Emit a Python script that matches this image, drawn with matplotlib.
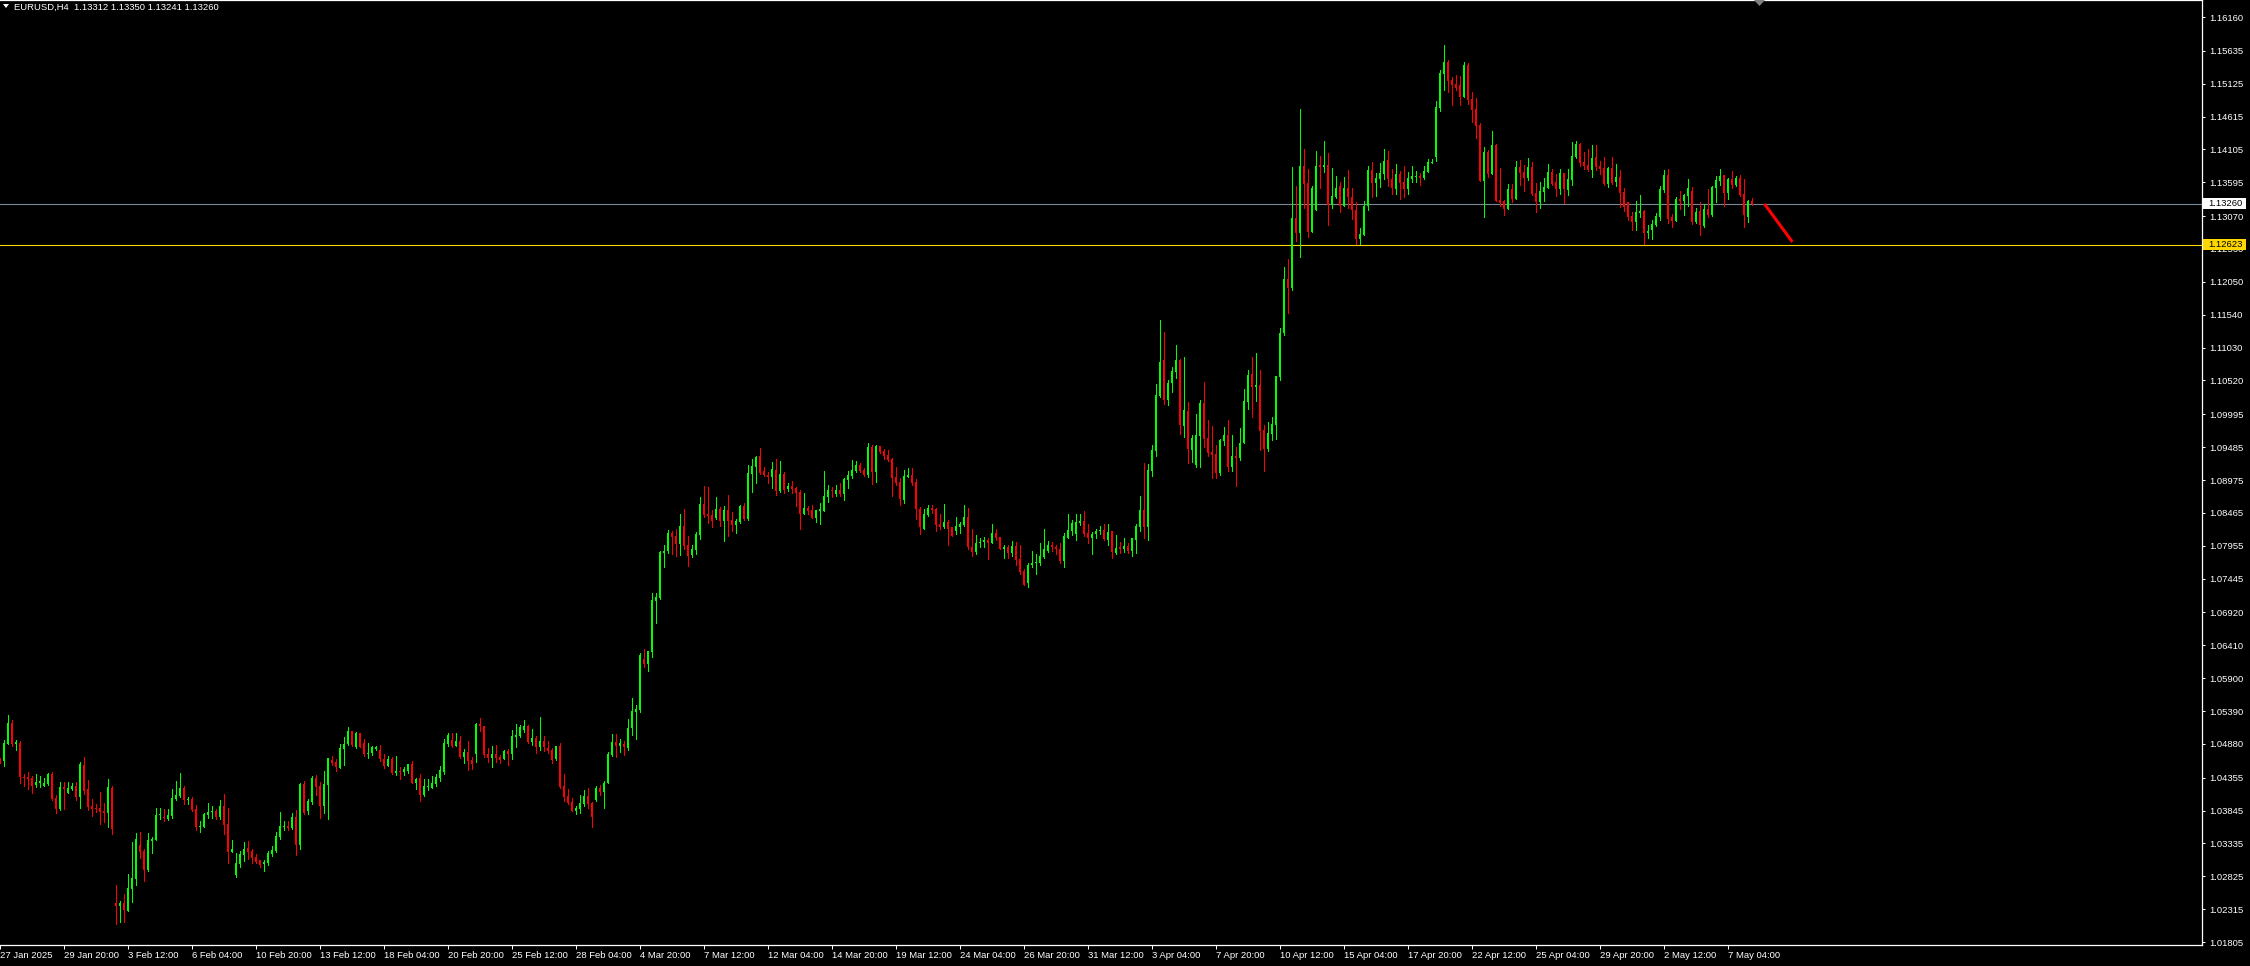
import numpy as np
import matplotlib
matplotlib.use('Agg')
import matplotlib.pyplot as plt
import matplotlib.transforms as mtransforms
from matplotlib.patches import Rectangle, Polygon

# EURUSD H4 candles, 27 Jan 2025 04:00 .. 8 May 2025
opens = [
    1.0463, 1.0462, 1.0488, 1.0520, 1.0488, 1.0489, 1.0437, 1.0437, 1.0435, 1.0424,
    1.0427, 1.0423, 1.0426, 1.0441, 1.0404, 1.0387, 1.0421, 1.0412, 1.0418, 1.0423,
    1.0406, 1.0455, 1.0418, 1.0392, 1.0389, 1.0389, 1.0384, 1.0381, 1.0420, 1.0241,
    1.0236, 1.0241, 1.0229, 1.0263, 1.0278, 1.0331, 1.0322, 1.0292, 1.0337, 1.0339,
    1.0377, 1.0375, 1.0372, 1.0376, 1.0403, 1.0407, 1.0420, 1.0401, 1.0402, 1.0387,
    1.0359, 1.0359, 1.0378, 1.0382, 1.0384, 1.0375, 1.0392, 1.0364, 1.0320, 1.0284,
    1.0302, 1.0316, 1.0327, 1.0322, 1.0312, 1.0308, 1.0302, 1.0303, 1.0317, 1.0322,
    1.0344, 1.0359, 1.0361, 1.0358, 1.0374, 1.0331, 1.0426, 1.0384, 1.0398, 1.0435,
    1.0423, 1.0392, 1.0424, 1.0463, 1.0460, 1.0451, 1.0480, 1.0488, 1.0508, 1.0483,
    1.0505, 1.0489, 1.0473, 1.0474, 1.0480, 1.0478, 1.0465, 1.0454, 1.0465, 1.0443,
    1.0446, 1.0444, 1.0446, 1.0457, 1.0427, 1.0435, 1.0409, 1.0421, 1.0420, 1.0426,
    1.0435, 1.0445, 1.0488, 1.0494, 1.0485, 1.0493, 1.0468, 1.0475, 1.0463, 1.0472,
    1.0519, 1.0516, 1.0472, 1.0466, 1.0472, 1.0468, 1.0465, 1.0477, 1.0472, 1.0499,
    1.0500, 1.0510, 1.0516, 1.0491, 1.0497, 1.0483, 1.0493, 1.0482, 1.0479, 1.0465,
    1.0485, 1.0423, 1.0407, 1.0398, 1.0384, 1.0387, 1.0395, 1.0407, 1.0396, 1.0401,
    1.0419, 1.0414, 1.0427, 1.0471, 1.0491, 1.0484, 1.0488, 1.0482, 1.0512, 1.0538,
    1.0541, 1.0620, 1.0612, 1.0631, 1.0710, 1.0715, 1.0784, 1.0787, 1.0815, 1.0811,
    1.0798, 1.0826, 1.0797, 1.0781, 1.0789, 1.0812, 1.0860, 1.0845, 1.0843, 1.0839,
    1.0853, 1.0834, 1.0851, 1.0836, 1.0828, 1.0832, 1.0857, 1.0837, 1.0907, 1.0918,
    1.0935, 1.0911, 1.0905, 1.0902, 1.0913, 1.0881, 1.0907, 1.0884, 1.0888, 1.0885,
    1.0879, 1.0845, 1.0854, 1.0851, 1.0839, 1.0850, 1.0850, 1.0871, 1.0882, 1.0876,
    1.0882, 1.0876, 1.0898, 1.0904, 1.0911, 1.0921, 1.0913, 1.0905, 1.0949, 1.0910,
    1.0950, 1.0943, 1.0936, 1.0930, 1.0902, 1.0895, 1.0867, 1.0902, 1.0905, 1.0895,
    1.0853, 1.0822, 1.0843, 1.0854, 1.0853, 1.0829, 1.0825, 1.0832, 1.0824, 1.0819,
    1.0825, 1.0828, 1.0840, 1.0794, 1.0786, 1.0799, 1.0802, 1.0804, 1.0799, 1.0815,
    1.0809, 1.0790, 1.0794, 1.0785, 1.0795, 1.0775, 1.0756, 1.0737, 1.0765, 1.0768,
    1.0769, 1.0778, 1.0788, 1.0797, 1.0794, 1.0791, 1.0772, 1.0808, 1.0819, 1.0814,
    1.0831, 1.0834, 1.0816, 1.0807, 1.0813, 1.0818, 1.0820, 1.0804, 1.0818, 1.0785,
    1.0794, 1.0791, 1.0795, 1.0788, 1.0805, 1.0825, 1.0851, 1.0825, 1.0912, 1.0943,
    1.1028, 1.1084, 1.1022, 1.1048, 1.1065, 1.1084, 1.0981, 1.1005, 1.0944, 1.0921,
    1.0966, 1.1017, 1.0963, 1.0941, 1.0938, 1.0909, 1.0958, 1.0968, 1.0918, 1.0934,
    1.0932, 1.0955, 1.1019, 1.1062, 1.1042, 1.1045, 1.0975, 1.0946, 1.0969, 1.0983,
    1.1058, 1.1126, 1.1210, 1.1195, 1.1304, 1.1281, 1.1385, 1.1358, 1.1283, 1.1317,
    1.1386, 1.1384, 1.1386, 1.1325, 1.1337, 1.1354, 1.1322, 1.1351, 1.1337, 1.1317,
    1.1271, 1.1278, 1.1322, 1.1379, 1.1358, 1.1365, 1.1373, 1.1394, 1.1365, 1.1349,
    1.1373, 1.1360, 1.1349, 1.1365, 1.1368, 1.1369, 1.1366, 1.1376, 1.1390, 1.1399,
    1.1475, 1.1528, 1.1546, 1.1518, 1.1512, 1.1511, 1.1492, 1.1541, 1.1489, 1.1473,
    1.1448, 1.1361, 1.1407, 1.1373, 1.1417, 1.1332, 1.1330, 1.1318, 1.1349, 1.1334,
    1.1383, 1.1376, 1.1366, 1.1383, 1.1343, 1.1329, 1.1345, 1.1351, 1.1376, 1.1360,
    1.1349, 1.1374, 1.1348, 1.1363, 1.1399, 1.1419, 1.1391, 1.1386, 1.1379, 1.1399,
    1.1385, 1.1382, 1.1357, 1.1382, 1.1360, 1.1368, 1.1345, 1.1329, 1.1307, 1.1298,
    1.1312, 1.1315, 1.1281, 1.1285, 1.1293, 1.1306, 1.1348, 1.1371, 1.1306, 1.1300,
    1.1334, 1.1331, 1.1338, 1.1346, 1.1298, 1.1315, 1.1292, 1.1318, 1.1309, 1.1351,
    1.1362, 1.1371, 1.1343, 1.1365, 1.1355, 1.1366, 1.1341, 1.1306, 1.13312,
]
highs = [
    1.0466, 1.0494, 1.0533, 1.0525, 1.0494, 1.0493, 1.0442, 1.0444, 1.0438, 1.0442,
    1.0438, 1.0435, 1.0443, 1.0444, 1.0409, 1.0429, 1.0429, 1.0429, 1.0427, 1.0429,
    1.0460, 1.0468, 1.0432, 1.0402, 1.0395, 1.0413, 1.0396, 1.0434, 1.0423, 1.0269,
    1.0244, 1.0255, 1.0286, 1.0336, 1.0350, 1.0351, 1.0325, 1.0350, 1.0343, 1.0389,
    1.0389, 1.0387, 1.0387, 1.0418, 1.0430, 1.0443, 1.0423, 1.0406, 1.0406, 1.0393,
    1.0368, 1.0381, 1.0396, 1.0391, 1.0387, 1.0401, 1.0410, 1.0389, 1.0339, 1.0319,
    1.0322, 1.0336, 1.0337, 1.0325, 1.0317, 1.0308, 1.0308, 1.0322, 1.0330, 1.0351,
    1.0382, 1.0368, 1.0368, 1.0381, 1.0385, 1.0427, 1.0430, 1.0402, 1.0438, 1.0440,
    1.0429, 1.0446, 1.0466, 1.0469, 1.0465, 1.0488, 1.0499, 1.0514, 1.0508, 1.0506,
    1.0505, 1.0496, 1.0489, 1.0485, 1.0485, 1.0486, 1.0472, 1.0469, 1.0468, 1.0469,
    1.0452, 1.0452, 1.0457, 1.0462, 1.0435, 1.0441, 1.0434, 1.0434, 1.0438, 1.0441,
    1.0454, 1.0496, 1.0505, 1.0505, 1.0505, 1.0500, 1.0480, 1.0493, 1.0468, 1.0520,
    1.0528, 1.0516, 1.0482, 1.0485, 1.0486, 1.0471, 1.0479, 1.0480, 1.0510, 1.0519,
    1.0517, 1.0525, 1.0517, 1.0511, 1.0500, 1.0530, 1.0500, 1.0493, 1.0482, 1.0485,
    1.0489, 1.0441, 1.0418, 1.0404, 1.0392, 1.0409, 1.0416, 1.0420, 1.0398, 1.0423,
    1.0424, 1.0430, 1.0476, 1.0504, 1.0504, 1.0495, 1.0492, 1.0526, 1.0559, 1.0549,
    1.0629, 1.0636, 1.0632, 1.0722, 1.0722, 1.0787, 1.0797, 1.0820, 1.0818, 1.0822,
    1.0845, 1.0853, 1.0811, 1.0797, 1.0817, 1.0871, 1.0888, 1.0887, 1.0851, 1.0871,
    1.0856, 1.0857, 1.0874, 1.0848, 1.0837, 1.0859, 1.0862, 1.0921, 1.0930, 1.0935,
    1.0947, 1.0918, 1.0910, 1.0925, 1.0930, 1.0927, 1.0910, 1.0893, 1.0896, 1.0887,
    1.0882, 1.0877, 1.0857, 1.0859, 1.0851, 1.0862, 1.0911, 1.0890, 1.0887, 1.0890,
    1.0893, 1.0901, 1.0911, 1.0929, 1.0927, 1.0924, 1.0916, 1.0955, 1.0952, 1.0952,
    1.0950, 1.0946, 1.0944, 1.0932, 1.0918, 1.0901, 1.0913, 1.0916, 1.0916, 1.0899,
    1.0856, 1.0853, 1.0859, 1.0859, 1.0854, 1.0845, 1.0860, 1.0835, 1.0825, 1.0840,
    1.0832, 1.0858, 1.0854, 1.0821, 1.0812, 1.0808, 1.0809, 1.0807, 1.0829, 1.0822,
    1.0809, 1.0796, 1.0797, 1.0803, 1.0801, 1.0796, 1.0760, 1.0769, 1.0788, 1.0782,
    1.0800, 1.0822, 1.0803, 1.0801, 1.0797, 1.0800, 1.0816, 1.0845, 1.0835, 1.0845,
    1.0845, 1.0850, 1.0829, 1.0817, 1.0822, 1.0826, 1.0829, 1.0829, 1.0819, 1.0812,
    1.0801, 1.0808, 1.0800, 1.0808, 1.0829, 1.0873, 1.0924, 1.0922, 1.0952, 1.1047,
    1.1146, 1.1127, 1.1053, 1.1073, 1.1107, 1.1085, 1.1089, 1.1019, 1.0968, 1.1000,
    1.1021, 1.1050, 1.0991, 1.0981, 1.0952, 1.0961, 1.0980, 1.0991, 1.0968, 1.0949,
    1.0978, 1.1039, 1.1068, 1.1089, 1.1095, 1.1068, 1.0983, 1.0988, 1.0996, 1.1059,
    1.1134, 1.1228, 1.1241, 1.1383, 1.1354, 1.1473, 1.1411, 1.1380, 1.1353, 1.1408,
    1.1400, 1.1424, 1.1405, 1.1382, 1.1369, 1.1360, 1.1368, 1.1379, 1.1350, 1.1329,
    1.1289, 1.1331, 1.1385, 1.1391, 1.1374, 1.1390, 1.1411, 1.1408, 1.1380, 1.1388,
    1.1377, 1.1385, 1.1376, 1.1385, 1.1377, 1.1374, 1.1385, 1.1396, 1.1396, 1.1486,
    1.1534, 1.1573, 1.1549, 1.1523, 1.1526, 1.1524, 1.1546, 1.1545, 1.1500, 1.1490,
    1.1452, 1.1414, 1.1410, 1.1439, 1.1419, 1.1382, 1.1332, 1.1357, 1.1357, 1.1393,
    1.1394, 1.1386, 1.1397, 1.1391, 1.1359, 1.1360, 1.1366, 1.1388, 1.1380, 1.1372,
    1.1380, 1.1374, 1.1380, 1.1422, 1.1424, 1.1421, 1.1407, 1.1411, 1.1417, 1.1417,
    1.1393, 1.1399, 1.1383, 1.1399, 1.1388, 1.1379, 1.1351, 1.1329, 1.1314, 1.1331,
    1.1340, 1.1317, 1.1293, 1.1301, 1.1312, 1.1354, 1.1379, 1.1380, 1.1311, 1.1337,
    1.1346, 1.1341, 1.1365, 1.1352, 1.1320, 1.1329, 1.1326, 1.1349, 1.1354, 1.1369,
    1.1380, 1.1371, 1.1366, 1.1377, 1.1369, 1.1371, 1.1365, 1.1332, 1.13350,
]
lows = [
    1.0459, 1.0453, 1.0488, 1.0484, 1.0479, 1.0428, 1.0423, 1.0418, 1.0412, 1.0421,
    1.0421, 1.0423, 1.0424, 1.0401, 1.0380, 1.0385, 1.0387, 1.0412, 1.0416, 1.0401,
    1.0389, 1.0410, 1.0385, 1.0376, 1.0382, 1.0364, 1.0367, 1.0359, 1.0348, 1.0209,
    1.0212, 1.0212, 1.0229, 1.0243, 1.0269, 1.0311, 1.0275, 1.0291, 1.0319, 1.0339,
    1.0372, 1.0368, 1.0370, 1.0373, 1.0401, 1.0406, 1.0395, 1.0395, 1.0384, 1.0354,
    1.0351, 1.0359, 1.0373, 1.0373, 1.0372, 1.0372, 1.0348, 1.0303, 1.0320, 1.0281,
    1.0297, 1.0306, 1.0309, 1.0303, 1.0303, 1.0297, 1.0291, 1.0300, 1.0314, 1.0320,
    1.0341, 1.0354, 1.0354, 1.0356, 1.0316, 1.0325, 1.0379, 1.0379, 1.0395, 1.0409,
    1.0373, 1.0381, 1.0372, 1.0455, 1.0446, 1.0451, 1.0455, 1.0486, 1.0485, 1.0482,
    1.0483, 1.0469, 1.0466, 1.0471, 1.0479, 1.0461, 1.0451, 1.0454, 1.0441, 1.0440,
    1.0433, 1.0440, 1.0443, 1.0427, 1.0418, 1.0399, 1.0407, 1.0416, 1.0420, 1.0423,
    1.0430, 1.0441, 1.0485, 1.0483, 1.0485, 1.0466, 1.0458, 1.0447, 1.0449, 1.0460,
    1.0508, 1.0468, 1.0460, 1.0452, 1.0460, 1.0458, 1.0465, 1.0455, 1.0465, 1.0483,
    1.0499, 1.0506, 1.0489, 1.0486, 1.0474, 1.0479, 1.0477, 1.0474, 1.0458, 1.0463,
    1.0420, 1.0399, 1.0395, 1.0384, 1.0379, 1.0381, 1.0392, 1.0389, 1.0359, 1.0399,
    1.0409, 1.0388, 1.0427, 1.0469, 1.0467, 1.0476, 1.0470, 1.0479, 1.0502, 1.0496,
    1.0537, 1.0608, 1.0601, 1.0623, 1.0676, 1.0713, 1.0763, 1.0784, 1.0783, 1.0779,
    1.0781, 1.0791, 1.0764, 1.0778, 1.0783, 1.0806, 1.0840, 1.0831, 1.0825, 1.0837,
    1.0826, 1.0803, 1.0811, 1.0818, 1.0815, 1.0831, 1.0836, 1.0836, 1.0879, 1.0893,
    1.0907, 1.0904, 1.0893, 1.0885, 1.0874, 1.0879, 1.0877, 1.0881, 1.0877, 1.0857,
    1.0822, 1.0845, 1.0845, 1.0839, 1.0832, 1.0829, 1.0850, 1.0863, 1.0871, 1.0873,
    1.0873, 1.0867, 1.0885, 1.0901, 1.0910, 1.0910, 1.0904, 1.0902, 1.0891, 1.0894,
    1.0939, 1.0930, 1.0927, 1.0872, 1.0890, 1.0859, 1.0862, 1.0902, 1.0889, 1.0837,
    1.0813, 1.0821, 1.0841, 1.0847, 1.0819, 1.0822, 1.0823, 1.0796, 1.0811, 1.0814,
    1.0816, 1.0826, 1.0791, 1.0780, 1.0783, 1.0794, 1.0793, 1.0775, 1.0799, 1.0805,
    1.0790, 1.0777, 1.0777, 1.0780, 1.0766, 1.0751, 1.0734, 1.0732, 1.0763, 1.0752,
    1.0766, 1.0776, 1.0786, 1.0788, 1.0783, 1.0768, 1.0763, 1.0807, 1.0812, 1.0804,
    1.0828, 1.0811, 1.0800, 1.0783, 1.0807, 1.0814, 1.0804, 1.0797, 1.0777, 1.0782,
    1.0785, 1.0786, 1.0785, 1.0779, 1.0785, 1.0818, 1.0808, 1.0804, 1.0904, 1.0934,
    1.1026, 1.1016, 1.1014, 1.1034, 1.1056, 1.0969, 1.0964, 1.0924, 1.0926, 1.0917,
    1.0918, 1.0949, 1.0934, 1.0900, 1.0900, 1.0906, 1.0952, 1.0911, 1.0912, 1.0888,
    1.0929, 1.0955, 1.1008, 1.0996, 1.1020, 1.0944, 1.0912, 1.0942, 1.0960, 1.0961,
    1.1053, 1.1123, 1.1157, 1.1192, 1.1269, 1.1244, 1.1319, 1.1275, 1.1283, 1.1316,
    1.1351, 1.1375, 1.1294, 1.1319, 1.1335, 1.1314, 1.1322, 1.1319, 1.1303, 1.1263,
    1.1264, 1.1278, 1.1316, 1.1336, 1.1339, 1.1352, 1.1364, 1.1354, 1.1342, 1.1342,
    1.1334, 1.1337, 1.1342, 1.1360, 1.1360, 1.1356, 1.1365, 1.1376, 1.1389, 1.1392,
    1.1470, 1.1503, 1.1500, 1.1479, 1.1503, 1.1479, 1.1492, 1.1481, 1.1453, 1.1428,
    1.1361, 1.1306, 1.1368, 1.1372, 1.1331, 1.1323, 1.1309, 1.1318, 1.1329, 1.1334,
    1.1355, 1.1346, 1.1363, 1.1340, 1.1314, 1.1320, 1.1331, 1.1351, 1.1355, 1.1338,
    1.1341, 1.1327, 1.1340, 1.1355, 1.1397, 1.1385, 1.1380, 1.1377, 1.1368, 1.1379,
    1.1372, 1.1355, 1.1352, 1.1357, 1.1354, 1.1321, 1.1315, 1.1301, 1.1285, 1.1285,
    1.1306, 1.1264, 1.1273, 1.1272, 1.1292, 1.1301, 1.1345, 1.1296, 1.1290, 1.1300,
    1.1318, 1.1309, 1.1323, 1.1295, 1.1296, 1.1278, 1.1290, 1.1306, 1.1307, 1.1329,
    1.1355, 1.1323, 1.1334, 1.1351, 1.1354, 1.1338, 1.1290, 1.1298, 1.13241,
]
closes = [
    1.0462, 1.0489, 1.0520, 1.0488, 1.0491, 1.0436, 1.0435, 1.0434, 1.0423, 1.0429,
    1.0430, 1.0427, 1.0441, 1.0403, 1.0387, 1.0421, 1.0418, 1.0420, 1.0423, 1.0406,
    1.0457, 1.0415, 1.0390, 1.0387, 1.0387, 1.0382, 1.0381, 1.0421, 1.0356, 1.0236,
    1.0241, 1.0230, 1.0264, 1.0280, 1.0340, 1.0320, 1.0292, 1.0339, 1.0340, 1.0378,
    1.0379, 1.0373, 1.0378, 1.0404, 1.0409, 1.0420, 1.0401, 1.0402, 1.0385, 1.0359,
    1.0361, 1.0379, 1.0382, 1.0384, 1.0375, 1.0392, 1.0362, 1.0320, 1.0325, 1.0303,
    1.0317, 1.0325, 1.0320, 1.0311, 1.0305, 1.0300, 1.0305, 1.0319, 1.0323, 1.0345,
    1.0361, 1.0361, 1.0358, 1.0374, 1.0331, 1.0426, 1.0380, 1.0399, 1.0435, 1.0421,
    1.0392, 1.0426, 1.0466, 1.0458, 1.0452, 1.0482, 1.0488, 1.0508, 1.0486, 1.0505,
    1.0483, 1.0472, 1.0474, 1.0483, 1.0483, 1.0465, 1.0454, 1.0465, 1.0443, 1.0446,
    1.0445, 1.0449, 1.0457, 1.0427, 1.0434, 1.0409, 1.0423, 1.0422, 1.0427, 1.0437,
    1.0447, 1.0489, 1.0502, 1.0485, 1.0493, 1.0468, 1.0475, 1.0461, 1.0457, 1.0519,
    1.0516, 1.0471, 1.0466, 1.0472, 1.0466, 1.0463, 1.0477, 1.0472, 1.0500, 1.0502,
    1.0514, 1.0516, 1.0491, 1.0497, 1.0483, 1.0493, 1.0483, 1.0477, 1.0463, 1.0485,
    1.0421, 1.0406, 1.0396, 1.0384, 1.0389, 1.0396, 1.0407, 1.0395, 1.0375, 1.0419,
    1.0414, 1.0427, 1.0473, 1.0491, 1.0485, 1.0490, 1.0483, 1.0513, 1.0539, 1.0542,
    1.0626, 1.0612, 1.0632, 1.0711, 1.0716, 1.0786, 1.0787, 1.0815, 1.0809, 1.0798,
    1.0826, 1.0795, 1.0780, 1.0791, 1.0814, 1.0860, 1.0843, 1.0842, 1.0834, 1.0853,
    1.0834, 1.0851, 1.0834, 1.0828, 1.0834, 1.0857, 1.0837, 1.0908, 1.0919, 1.0933,
    1.0908, 1.0905, 1.0902, 1.0915, 1.0881, 1.0907, 1.0882, 1.0888, 1.0884, 1.0877,
    1.0845, 1.0854, 1.0850, 1.0839, 1.0851, 1.0853, 1.0873, 1.0882, 1.0881, 1.0882,
    1.0876, 1.0899, 1.0905, 1.0913, 1.0921, 1.0911, 1.0905, 1.0949, 1.0910, 1.0950,
    1.0941, 1.0935, 1.0929, 1.0901, 1.0893, 1.0868, 1.0904, 1.0905, 1.0893, 1.0852,
    1.0824, 1.0845, 1.0854, 1.0851, 1.0827, 1.0825, 1.0832, 1.0822, 1.0811, 1.0826,
    1.0830, 1.0840, 1.0793, 1.0786, 1.0800, 1.0802, 1.0804, 1.0799, 1.0815, 1.0808,
    1.0790, 1.0794, 1.0785, 1.0795, 1.0774, 1.0755, 1.0735, 1.0766, 1.0769, 1.0771,
    1.0780, 1.0790, 1.0797, 1.0793, 1.0790, 1.0772, 1.0811, 1.0820, 1.0831, 1.0832,
    1.0834, 1.0814, 1.0807, 1.0814, 1.0819, 1.0820, 1.0806, 1.0817, 1.0786, 1.0792,
    1.0791, 1.0795, 1.0788, 1.0807, 1.0826, 1.0851, 1.0825, 1.0913, 1.0944, 1.1030,
    1.1081, 1.1022, 1.1048, 1.1067, 1.1084, 1.0983, 1.1006, 1.0946, 1.0963, 1.0968,
    1.1017, 1.0961, 1.0940, 1.0937, 1.0909, 1.0960, 1.0968, 1.0918, 1.0935, 1.0932,
    1.0955, 1.1020, 1.1061, 1.1042, 1.1045, 1.0974, 1.0946, 1.0971, 1.0985, 1.1059,
    1.1126, 1.1210, 1.1195, 1.1304, 1.1281, 1.1385, 1.1357, 1.1283, 1.1351, 1.1385,
    1.1384, 1.1386, 1.1325, 1.1338, 1.1351, 1.1322, 1.1351, 1.1337, 1.1316, 1.1271,
    1.1280, 1.1323, 1.1379, 1.1358, 1.1366, 1.1374, 1.1393, 1.1364, 1.1351, 1.1373,
    1.1358, 1.1349, 1.1366, 1.1369, 1.1369, 1.1366, 1.1377, 1.1391, 1.1391, 1.1476,
    1.1529, 1.1546, 1.1517, 1.1511, 1.1506, 1.1492, 1.1541, 1.1487, 1.1472, 1.1447,
    1.1361, 1.1407, 1.1373, 1.1417, 1.1331, 1.1327, 1.1318, 1.1349, 1.1334, 1.1383,
    1.1374, 1.1366, 1.1383, 1.1341, 1.1329, 1.1346, 1.1352, 1.1376, 1.1357, 1.1349,
    1.1374, 1.1349, 1.1365, 1.1400, 1.1419, 1.1390, 1.1385, 1.1379, 1.1397, 1.1383,
    1.1380, 1.1357, 1.1382, 1.1359, 1.1368, 1.1343, 1.1321, 1.1306, 1.1298, 1.1314,
    1.1315, 1.1281, 1.1284, 1.1295, 1.1307, 1.1349, 1.1371, 1.1303, 1.1300, 1.1334,
    1.1331, 1.1340, 1.1351, 1.1298, 1.1314, 1.1293, 1.1318, 1.1309, 1.1352, 1.1363,
    1.1369, 1.1343, 1.1365, 1.1355, 1.1366, 1.1340, 1.1309, 1.1331, 1.13260,
]

bid_price = 1.13260
level_price = 1.12623
trend_idx = [441.1, 448.1]
trend_price = [1.1326, 1.1267]

ytick_vals = [1.16160, 1.15635, 1.15125, 1.14615, 1.14105, 1.13595, 1.13070,
              1.12560, 1.12050, 1.11540, 1.11030, 1.10520, 1.09995, 1.09485,
              1.08975, 1.08465, 1.07955, 1.07445, 1.06920, 1.06410, 1.05900,
              1.05390, 1.04880, 1.04355, 1.03845, 1.03335, 1.02825, 1.02315,
              1.01805]
xtick_labels = ['27 Jan 2025', '29 Jan 20:00', '3 Feb 12:00', '6 Feb 04:00',
                '10 Feb 20:00', '13 Feb 12:00', '18 Feb 04:00', '20 Feb 20:00',
                '25 Feb 12:00', '28 Feb 04:00', '4 Mar 20:00', '7 Mar 12:00',
                '12 Mar 04:00', '14 Mar 20:00', '19 Mar 12:00', '24 Mar 04:00',
                '26 Mar 20:00', '31 Mar 12:00', '3 Apr 04:00', '7 Apr 20:00',
                '10 Apr 12:00', '15 Apr 04:00', '17 Apr 20:00', '22 Apr 12:00',
                '25 Apr 04:00', '29 Apr 20:00', '2 May 12:00', '7 May 04:00']
header = 'EURUSD,H4  1.13312 1.13350 1.13241 1.13260'

o = np.array(opens)
h = np.array(highs)
l = np.array(lows)
c = np.array(closes)
idx = np.arange(len(o))
col = np.where(c >= o, '#00FF00', '#FF0000')

plt.rcParams['font.family'] = ['Liberation Sans', 'DejaVu Sans']
FS = 6.8
W, H = 2250, 966

fig = plt.figure(figsize=(W / 100, H / 100), dpi=100, facecolor='black')
ax = fig.add_axes([0, 21 / H, 2202 / W, 945 / H])
ax.set_facecolor('black')

ax.axhline(level_price, color='#FFD700', lw=0.8, zorder=1)
ax.axhline(bid_price, color='#778899', lw=0.8, zorder=1)

# candles: 1px wicks, 3px bodies, 4px spacing
ax.vlines(idx, l, h, colors=col, lw=0.72, antialiased=False, zorder=2)
body_lo = np.minimum(o, c)
body_h = np.maximum(np.abs(c - o), 0.00015)
ax.bar(idx, body_h, width=0.62, bottom=body_lo, color=col, linewidth=0,
       antialiased=False, zorder=3)

ax.plot(trend_idx, trend_price, color='#FF0000', lw=2.2, solid_capstyle='butt', zorder=4)

ax.set_xlim(0, 550.5)
ax.set_ylim(1.01759, 1.16424)

ax.set_xticks(np.arange(len(xtick_labels)) * 16)
ax.set_xticklabels(xtick_labels)
for lbl in ax.get_xticklabels():
    lbl.set_horizontalalignment('left')
ax.yaxis.tick_right()
ax.set_yticks(ytick_vals)
ax.set_yticklabels(['%.5f' % v for v in ytick_vals])
ax.tick_params(axis='y', colors='white', length=2.5, width=0.75, pad=3, labelsize=FS)
ax.tick_params(axis='x', colors='white', length=3, width=0.75, pad=1, labelsize=FS)

for s in ['right', 'bottom', 'top']:
    ax.spines[s].set_color('white')
    ax.spines[s].set_linewidth(0.9)
ax.spines['left'].set_visible(False)

# price labels on the right scale
tr = mtransforms.blended_transform_factory(ax.transAxes, ax.transData)
for price, face in [(bid_price, 'white'), (level_price, '#FFD700')]:
    ax.add_patch(Rectangle((1.0004, price - 0.00086), 43 / 2202, 0.00172,
                           transform=tr, facecolor=face, edgecolor='none',
                           clip_on=False, zorder=6))
    ax.text(2208 / 2202, price, '%.5f' % price, transform=tr, color='black',
            fontsize=FS, va='center', ha='left', clip_on=False, zorder=7)

# header and chart-shift marker
fig.text(14 / W, 1 - 7 / H, header, color='white', fontsize=FS, va='center', ha='left')
fig.patches.append(Polygon([(3 / W, 1 - 4 / H), (9 / W, 1 - 4 / H), (6 / W, 1 - 8 / H)],
                           closed=True, facecolor='white', edgecolor='none',
                           transform=fig.transFigure, figure=fig))
fig.patches.append(Polygon([(1754 / W, 1.0), (1765 / W, 1.0), (1759.5 / W, 1 - 6 / H)],
                           closed=True, facecolor='#808080', edgecolor='none',
                           transform=fig.transFigure, figure=fig))

fig.savefig('out.png', dpi=100, facecolor='black')
